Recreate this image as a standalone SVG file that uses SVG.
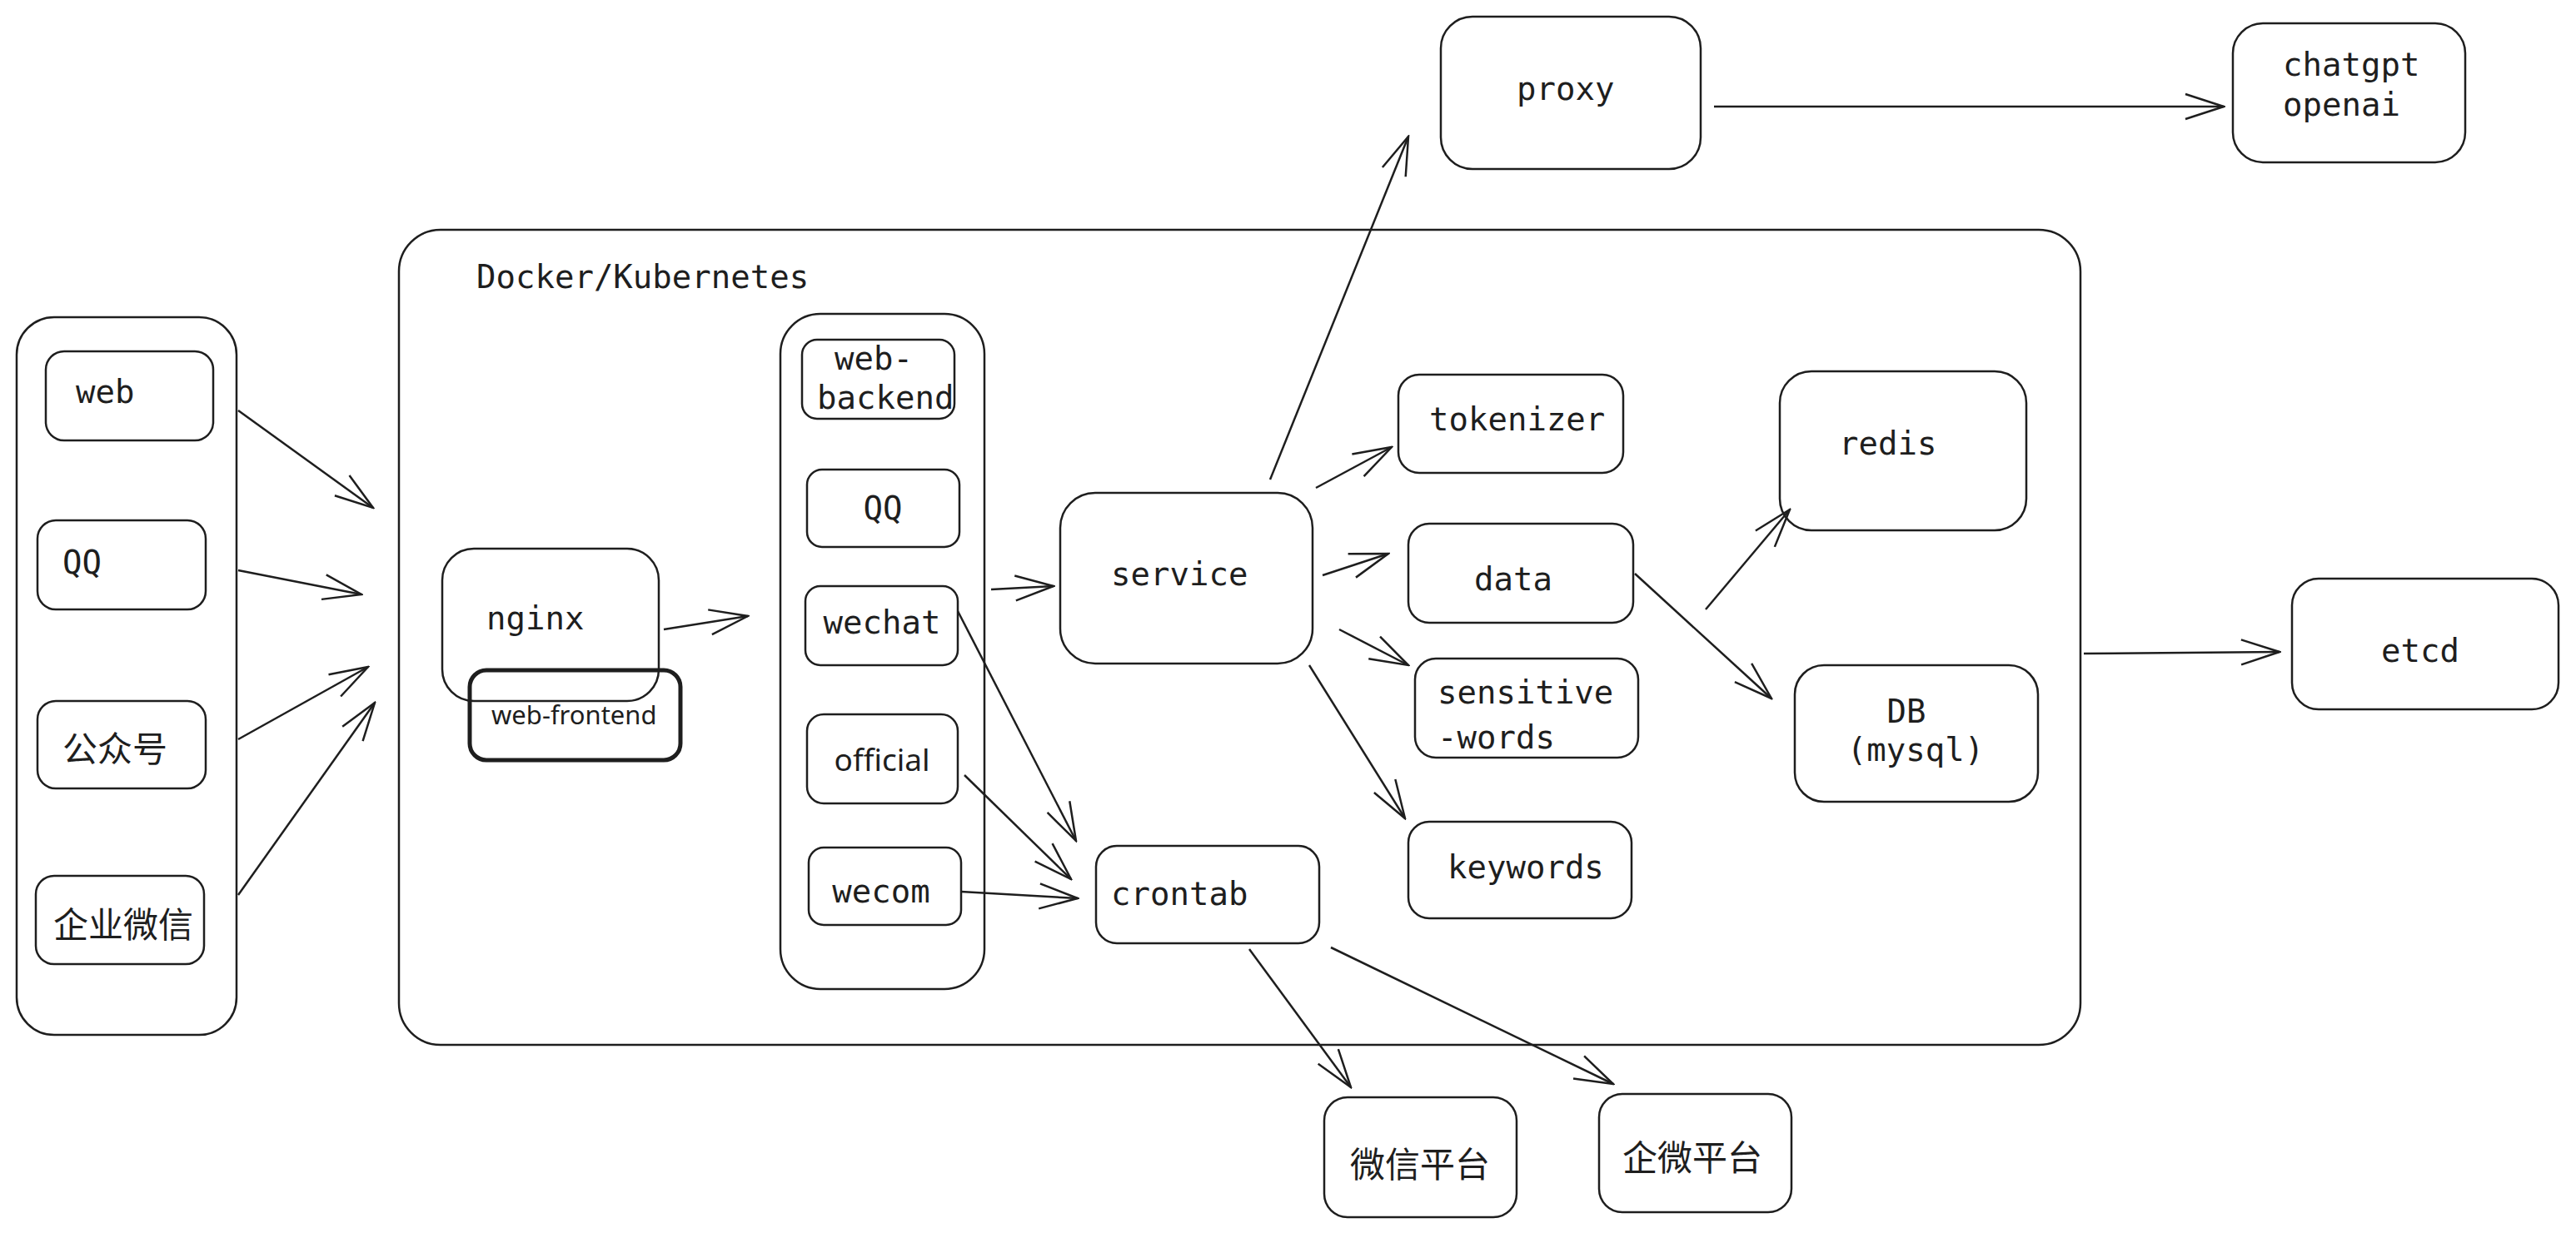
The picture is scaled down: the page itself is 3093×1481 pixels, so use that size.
<svg xmlns="http://www.w3.org/2000/svg" width="3093" height="1481" viewBox="0 0 3093 1481">
<style>
.box{fill:none;stroke:#1e1e1e;stroke-width:2.5}
.thick{fill:none;stroke:#1e1e1e;stroke-width:5}
.t{font-family:"DejaVu Sans Mono","Liberation Mono",monospace;font-size:39px;fill:#1e1e1e}
.s{font-family:"Noto Sans","Liberation Sans",sans-serif;fill:#1e1e1e}
.c{font-family:"Noto Sans CJK SC","Noto Sans",sans-serif;font-size:42px;fill:#1e1e1e}
.e{fill:none;stroke:#1e1e1e;stroke-width:2.5;marker-end:url(#ah)}
</style>
<defs>
<marker id="ah" markerUnits="userSpaceOnUse" markerWidth="50" markerHeight="36" viewBox="0 0 50 36" refX="48" refY="18" orient="auto">
<path d="M2,3 L48,18 L2,33" fill="none" stroke="#1e1e1e" stroke-width="2.5"/>
</marker>
</defs>
<rect width="3093" height="1481" fill="#ffffff"/>

<g id="clients">
<rect class="box" x="20" y="381" width="264" height="862" rx="45"/>
</g>
<g id="web"><rect class="box" x="55" y="422" width="201" height="107" rx="22"/><text class="t" x="91" y="484">web</text></g>
<g id="qq-client"><rect class="box" x="45" y="625" width="202" height="107" rx="22"/><text class="t" x="75" y="689">QQ</text></g>
<g id="gzh"><rect class="box" x="45" y="842" width="202" height="105" rx="22"/><text class="c" x="75" y="915">公众号</text></g>
<g id="qywx"><rect class="box" x="43" y="1052" width="202" height="106" rx="22"/><text class="c" x="64" y="1126">企业微信</text></g>

<g id="docker">
<rect class="box" x="479" y="276" width="2019" height="979" rx="50"/>
<text class="t" x="572" y="346">Docker/Kubernetes</text>
</g>

<g id="nginx"><rect class="box" x="531" y="659" width="260" height="183" rx="38"/><text class="t" x="584" y="756">nginx</text></g>
<g id="web-frontend"><rect class="thick" x="564" y="805" width="253" height="108" rx="20"/><text class="s" x="590" y="870" font-size="31">web-frontend</text></g>

<g id="backend-group"><rect class="box" x="937" y="377" width="245" height="811" rx="48"/></g>
<g id="web-backend"><rect class="box" x="963" y="408" width="183" height="95" rx="18"/><text class="t" x="1002" y="444">web-</text><text class="t" x="981" y="491">backend</text></g>
<g id="qq"><rect class="box" x="969" y="564" width="183" height="93" rx="18"/><text class="t" x="1060" y="624" text-anchor="middle">QQ</text></g>
<g id="wechat"><rect class="box" x="967" y="704" width="183" height="95" rx="18"/><text class="t" x="1059" y="761" text-anchor="middle">wechat</text></g>
<g id="official"><rect class="box" x="969" y="858" width="181" height="107" rx="20"/><text class="s" x="1059" y="926" font-size="37" text-anchor="middle">official</text></g>
<g id="wecom"><rect class="box" x="971" y="1018" width="183" height="93" rx="18"/><text class="t" x="1058" y="1084" text-anchor="middle">wecom</text></g>

<g id="service"><rect class="box" x="1273" y="592" width="303" height="205" rx="42"/><text class="t" x="1334" y="703">service</text></g>
<g id="crontab"><rect class="box" x="1316" y="1016" width="268" height="117" rx="25"/><text class="t" x="1334" y="1087">crontab</text></g>

<g id="tokenizer"><rect class="box" x="1679" y="450" width="270" height="118" rx="25"/><text class="t" x="1716" y="517">tokenizer</text></g>
<g id="data"><rect class="box" x="1691" y="629" width="270" height="119" rx="25"/><text class="t" x="1817" y="709" text-anchor="middle">data</text></g>
<g id="sensitive-words"><rect class="box" x="1699" y="791" width="268" height="119" rx="25"/><text class="t" x="1726" y="845">sensitive</text><text class="t" x="1726" y="899">-words</text></g>
<g id="keywords"><rect class="box" x="1691" y="987" width="268" height="116" rx="25"/><text class="t" x="1738" y="1055">keywords</text></g>

<g id="redis"><rect class="box" x="2137" y="446" width="296" height="191" rx="38"/><text class="t" x="2208" y="546">redis</text></g>
<g id="db"><rect class="box" x="2155" y="799" width="292" height="164" rx="35"/><text class="t" x="2289" y="868" text-anchor="middle">DB</text><text class="t" x="2300" y="914" text-anchor="middle">(mysql)</text></g>

<g id="etcd"><rect class="box" x="2752" y="695" width="320" height="157" rx="32"/><text class="t" x="2906" y="795" text-anchor="middle">etcd</text></g>
<g id="proxy"><rect class="box" x="1730" y="20" width="312" height="183" rx="38"/><text class="t" x="1821" y="120">proxy</text></g>
<g id="chatgpt"><rect class="box" x="2681" y="28" width="279" height="167" rx="36"/><text class="t" x="2741" y="91">chatgpt</text><text class="t" x="2741" y="139">openai</text></g>

<g id="wx-platform"><rect class="box" x="1590" y="1318" width="231" height="144" rx="28"/><text class="c" x="1621" y="1414">微信平台</text></g>
<g id="qw-platform"><rect class="box" x="1920" y="1314" width="231" height="142" rx="28"/><text class="c" x="1948" y="1406">企微平台</text></g>

<g id="connectors">
<line class="e" x1="286" y1="493" x2="448" y2="610"/>
<line class="e" x1="286" y1="685" x2="434" y2="714"/>
<line class="e" x1="286" y1="888" x2="442" y2="801"/>
<line class="e" x1="286" y1="1075" x2="450" y2="844"/>
<line class="e" x1="797" y1="756" x2="898" y2="740"/>
<line class="e" x1="1190" y1="708" x2="1265" y2="704"/>
<line class="e" x1="1150" y1="734" x2="1292" y2="1010"/>
<line class="e" x1="1158" y1="931" x2="1286" y2="1056"/>
<line class="e" x1="1154" y1="1071" x2="1294" y2="1079"/>
<line class="e" x1="1525" y1="576" x2="1691" y2="164"/>
<line class="e" x1="1580" y1="586" x2="1671" y2="537"/>
<line class="e" x1="1588" y1="691" x2="1667" y2="665"/>
<line class="e" x1="1608" y1="756" x2="1691" y2="799"/>
<line class="e" x1="1572" y1="799" x2="1687" y2="983"/>
<line class="e" x1="2048" y1="732" x2="2149" y2="612"/>
<line class="e" x1="1963" y1="689" x2="2127" y2="839"/>
<line class="e" x1="2502" y1="785" x2="2737" y2="783"/>
<line class="e" x1="2058" y1="128" x2="2670" y2="128"/>
<line class="e" x1="1500" y1="1140" x2="1622" y2="1306"/>
<line class="e" x1="1598" y1="1138" x2="1937" y2="1302"/>
</g>
</svg>
